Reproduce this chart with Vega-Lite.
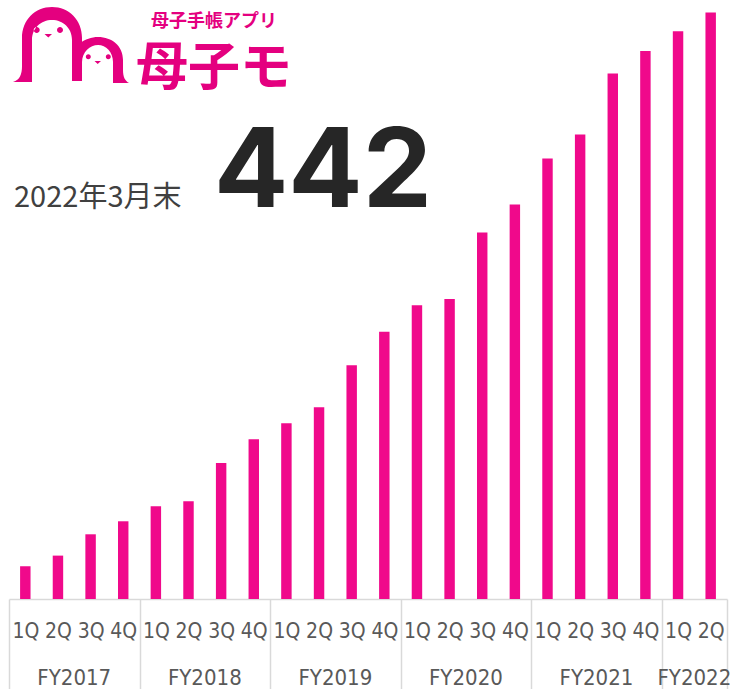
{
  "$schema": "https://vega.github.io/schema/vega-lite/v6.json",
  "width": 718,
  "height": 595,
  "autosize": "none",
  "padding": {"top": 4, "left": 9, "right": 3, "bottom": 90},
  "background": "white",
  "datasets": {
    "users": [
      {"key": "FY2017 1Q", "fy": "FY2017", "q": "1Q", "value": 26.4},
      {"key": "FY2017 2Q", "fy": "FY2017", "q": "2Q", "value": 35.0},
      {"key": "FY2017 3Q", "fy": "FY2017", "q": "3Q", "value": 52.2},
      {"key": "FY2017 4Q", "fy": "FY2017", "q": "4Q", "value": 62.7},
      {"key": "FY2018 1Q", "fy": "FY2018", "q": "1Q", "value": 74.8},
      {"key": "FY2018 2Q", "fy": "FY2018", "q": "2Q", "value": 78.8},
      {"key": "FY2018 3Q", "fy": "FY2018", "q": "3Q", "value": 109.8},
      {"key": "FY2018 4Q", "fy": "FY2018", "q": "4Q", "value": 128.9},
      {"key": "FY2019 1Q", "fy": "FY2019", "q": "1Q", "value": 141.8},
      {"key": "FY2019 2Q", "fy": "FY2019", "q": "2Q", "value": 154.7},
      {"key": "FY2019 3Q", "fy": "FY2019", "q": "3Q", "value": 188.6},
      {"key": "FY2019 4Q", "fy": "FY2019", "q": "4Q", "value": 215.5},
      {"key": "FY2020 1Q", "fy": "FY2020", "q": "1Q", "value": 237.0},
      {"key": "FY2020 2Q", "fy": "FY2020", "q": "2Q", "value": 242.1},
      {"key": "FY2020 3Q", "fy": "FY2020", "q": "3Q", "value": 295.7},
      {"key": "FY2020 4Q", "fy": "FY2020", "q": "4Q", "value": 318.3},
      {"key": "FY2021 1Q", "fy": "FY2021", "q": "1Q", "value": 355.4},
      {"key": "FY2021 2Q", "fy": "FY2021", "q": "2Q", "value": 374.8},
      {"key": "FY2021 3Q", "fy": "FY2021", "q": "3Q", "value": 424.0},
      {"key": "FY2021 4Q", "fy": "FY2021", "q": "4Q", "value": 442},
      {"key": "FY2022 1Q", "fy": "FY2022", "q": "1Q", "value": 458.1},
      {"key": "FY2022 2Q", "fy": "FY2022", "q": "2Q", "value": 473.2}
    ],
    "logo": [{"app": "母子手帳アプリ", "name": "母子モ"}],
    "asof": [{"label": "2022年3月末"}]
  },
  "data": {"name": "users"},
  "layer": [
    {
      "mark": {"type": "bar", "color": "#F0098B", "width": {"band": 0.32}},
      "encoding": {
        "x": {
          "field": "key",
          "type": "nominal",
          "sort": null,
          "scale": {"paddingInner": 0, "paddingOuter": 0},
          "axis": {
            "title": null,
            "grid": false,
            "tickBand": "extent",
            "tickSize": 90,
            "tickWidth": 1.5,
            "tickColor": "#d9d9d9",
            "tickOpacity": {
              "condition": {
                "test": "datum.extra ? true : (isString(datum.value) && (slice(datum.value, -2) == '4Q' || datum.value == 'FY2022 2Q'))",
                "value": 1
              },
              "value": 0
            },
            "domainColor": "#d9d9d9",
            "domainWidth": 1.5,
            "labelExpr": "isString(datum.value) ? slice(datum.value, -2) : ''",
            "labelFont": "Liberation Sans Narrow, DejaVu Sans Condensed, sans-serif",
            "labelFontSize": 21,
            "labelColor": "#595959",
            "labelPadding": -69,
            "labelAngle": 0,
            "labelOverlap": false,
            "labelBound": false
          }
        },
        "y": {
          "field": "value",
          "type": "quantitative",
          "scale": {"domain": [0, 480], "nice": false},
          "axis": null
        }
      }
    },
    {
      "transform": [{"filter": "datum.q == '3Q' || datum.key == 'FY2022 2Q'"}],
      "mark": {
        "type": "text",
        "font": "Liberation Sans Narrow, DejaVu Sans Condensed, sans-serif",
        "fontSize": 22,
        "color": "#595959",
        "baseline": "alphabetic",
        "dy": 86
      },
      "encoding": {
        "x": {"field": "key", "type": "nominal", "bandPosition": 0},
        "y": {"datum": 0, "type": "quantitative"},
        "text": {"field": "fy"}
      }
    },
    {
      "transform": [{"filter": "datum.key == 'FY2021 4Q'"}],
      "mark": {
        "type": "text",
        "font": "Inter",
        "fontWeight": "bold",
        "fontSize": 110,
        "color": "#262626",
        "align": "center",
        "baseline": "alphabetic"
      },
      "encoding": {
        "x": {"datum": "FY2019 2Q", "type": "nominal", "bandPosition": 0.62},
        "y": {"datum": 316.5, "type": "quantitative"},
        "text": {"field": "value", "type": "quantitative", "format": "d"}
      }
    },
    {
      "data": {"name": "asof"},
      "mark": {
        "type": "text",
        "font": "Noto Sans CJK JP",
        "fontSize": 29,
        "color": "#404040",
        "align": "left",
        "baseline": "alphabetic",
        "dx": 5
      },
      "encoding": {
        "x": {"datum": "FY2017 1Q", "type": "nominal", "bandPosition": 0},
        "y": {"datum": 316.5, "type": "quantitative"},
        "text": {"field": "label"}
      }
    },
    {
      "data": {"name": "logo"},
      "mark": {
        "type": "text",
        "font": "Noto Sans CJK JP",
        "fontWeight": "bold",
        "fontSize": 52,
        "color": "#E4007F",
        "align": "center",
        "baseline": "middle"
      },
      "encoding": {
        "x": {"datum": "FY2018 3Q", "type": "nominal", "bandPosition": 0.28},
        "y": {"datum": 427.8, "type": "quantitative"},
        "text": {"field": "name"}
      }
    },
    {
      "data": {"name": "logo"},
      "mark": {
        "type": "text",
        "font": "Noto Sans CJK JP",
        "fontWeight": "bold",
        "fontSize": 18,
        "color": "#E4007F",
        "align": "center",
        "baseline": "middle"
      },
      "encoding": {
        "x": {"datum": "FY2018 3Q", "type": "nominal", "bandPosition": 0.28},
        "y": {"datum": 465.5, "type": "quantitative"},
        "text": {"field": "app"}
      }
    },
    {
      "data": {"name": "logo"},
      "mark": {
        "type": "point",
        "filled": true,
        "opacity": 1,
        "color": "#E4007F",
        "size": 10000,
        "shape": "M -1.16 0.74 C -1.02 0.7 -0.98 0.58 -0.98 0.42 L -0.98 -0.14 C -0.98 -0.5 -0.72 -0.76 -0.38 -0.76 C -0.04 -0.76 0.22 -0.5 0.22 -0.14 L 0.22 0.72 L 0.02 0.72 L 0.02 -0.1 C 0.02 -0.34 -0.16 -0.5 -0.38 -0.5 C -0.6 -0.5 -0.78 -0.34 -0.78 -0.1 L -0.78 0.74 Z M 0.02 0.3 C 0.02 0.02 0.28 -0.16 0.54 -0.16 C 0.82 -0.16 1.04 0.02 1.04 0.3 L 1.04 0.5 C 1.04 0.64 1.08 0.72 1.16 0.76 L 0.84 0.76 L 0.84 0.34 C 0.84 0.14 0.7 0 0.54 0 C 0.38 0 0.22 0.14 0.22 0.34 L 0.22 0.72 L 0.02 0.72 Z M -0.746 -0.3 A 0.06 0.06 0 1 0 -0.626 -0.3 A 0.06 0.06 0 1 0 -0.746 -0.3 Z M -0.28 -0.3 A 0.06 0.06 0 1 0 -0.16 -0.3 A 0.06 0.06 0 1 0 -0.28 -0.3 Z M 0.296 0.234 A 0.05 0.05 0 1 0 0.396 0.234 A 0.05 0.05 0 1 0 0.296 0.234 Z M 0.696 0.234 A 0.05 0.05 0 1 0 0.796 0.234 A 0.05 0.05 0 1 0 0.696 0.234 Z M -0.53 -0.22 L -0.38 -0.22 L -0.454 -0.15 Z M 0.47 0.32 L 0.6 0.32 L 0.534 0.38 Z"
      },
      "encoding": {
        "x": {"datum": "FY2017 2Q", "type": "nominal", "bandPosition": 0.9},
        "y": {"datum": 446.9, "type": "quantitative"}
      }
    }
  ],
  "config": {
    "view": {"stroke": null}
  }
}
